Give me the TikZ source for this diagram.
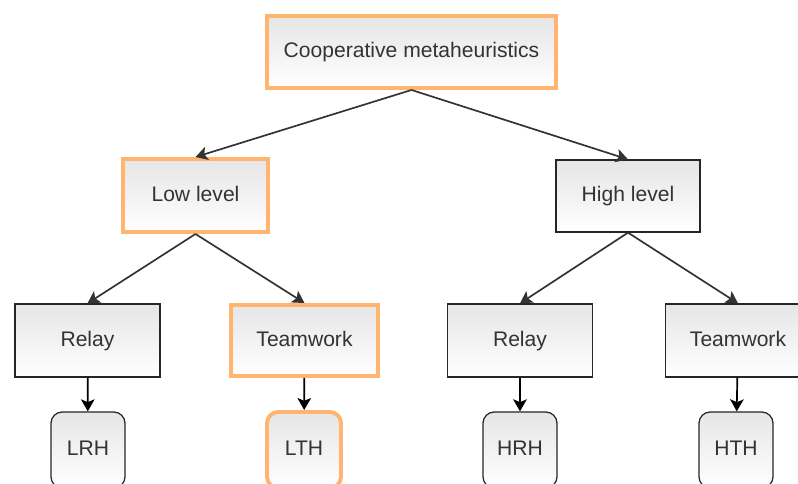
\documentclass[tikz,border=0pt]{standalone}
\usepackage{fontspec}
\setmainfont{Liberation Sans}
\usetikzlibrary{arrows.meta, positioning}
\definecolor{hlorange}{HTML}{FFB570}
\definecolor{txtgray}{HTML}{333333}

\begin{document}
\begin{tikzpicture}[
  x=0.025cm, y=-0.025cm,
  box/.style={rectangle, draw=black!85, line width=0.9pt,
              top color=gray!20, bottom color=white,
              minimum width=3.625cm, minimum height=1.825cm, inner sep=0pt,
              text height=0.8em, text depth=0pt,
              font=\fontsize{15}{18}\selectfont, text=txtgray},
  hlbox/.style={box, draw=hlorange, line width=2.8pt},
  leafbox/.style={box, rounded corners=8pt, minimum width=1.85cm, minimum height=1.9cm},
  arrow/.style={-{Stealth[length=3mm,width=3.4mm,inset=0.7mm]}, line width=1.2pt, draw=black!80}
]
\clip (0,0) rectangle (798,484);
% top
\node[hlbox, minimum width=7.225cm, minimum height=1.8cm] (coop) at (411.5,52) {Cooperative metaheuristics};
% second level
\node[hlbox] (low) at (195.5,195.5) {Low level};
\node[box, minimum width=3.6cm, minimum height=1.8cm] (high) at (628,196) {High level};
% third level
\node[box] (lrelay) at (87.5,340.5) {Relay};
\node[hlbox, minimum width=3.675cm, minimum height=1.775cm] (lteam) at (304.5,340.5) {Teamwork};
\node[box] (hrelay) at (520,340.5) {Relay};
\node[box] (hteam) at (738,340.5) {Teamwork};
% leaves
\node[leafbox] (lrh) at (88,450) {LRH};
\node[leafbox, hlbox, rounded corners=8pt, minimum width=1.85cm, minimum height=1.9cm] (lth) at (304,450) {LTH};
\node[leafbox] (hrh) at (520,450) {HRH};
\node[leafbox] (hth) at (736,450) {HTH};
\draw[arrow] (coop.south) -- (low.north);
\draw[arrow] (coop.south) -- (high.north);
\draw[arrow] (low.south) -- (lrelay.north);
\draw[arrow] (low.south) -- (lteam.north);
\draw[arrow] (high.south) -- (hrelay.north);
\draw[arrow] (high.south) -- (hteam.north);
\draw[arrow, draw=black] (lrelay) -- (lrh);
\draw[arrow, draw=black] (lteam) -- (lth);
\draw[arrow, draw=black] (hrelay) -- (hrh);
\draw[arrow, draw=black] (hteam) -- (hth);
\end{tikzpicture}
\end{document}
